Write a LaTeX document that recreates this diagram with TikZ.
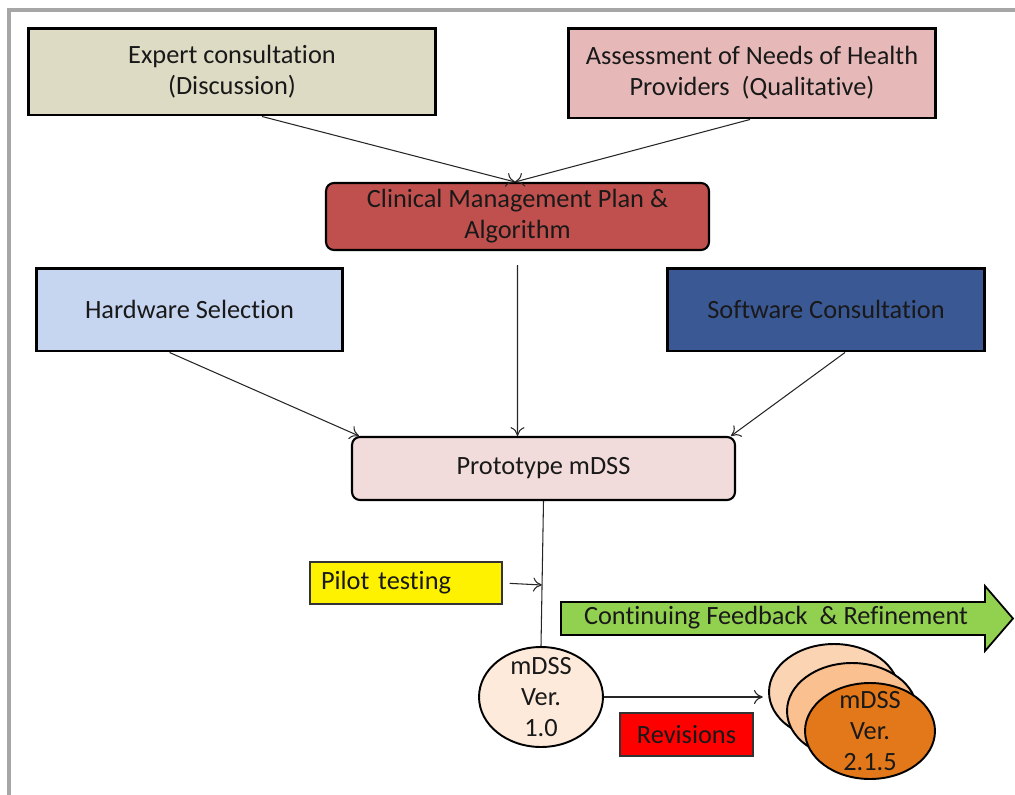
\documentclass[tikz,border=0pt]{standalone}
\usepackage{fontspec}
\setmainfont[Ligatures=NoCommon]{Carlito}
\usepackage{tikz}
\usetikzlibrary{shapes,arrows.meta}

\definecolor{expertfill}{HTML}{DDDBC3}
\definecolor{assessfill}{HTML}{E6B9B8}
\definecolor{clinicfill}{HTML}{C0504D}
\definecolor{hardfill}{HTML}{C6D5F0}
\definecolor{softfill}{HTML}{3A5894}
\definecolor{protofill}{HTML}{F2DCDB}
\definecolor{feedgreen}{HTML}{92D050}
\definecolor{verone}{HTML}{FDEADA}
\definecolor{vera}{HTML}{FBD4B4}
\definecolor{verb}{HTML}{FAC090}
\definecolor{verc}{HTML}{E3781A}
\definecolor{framegray}{HTML}{A6A6A6}

\begin{document}
\begin{tikzpicture}[x=0.02cm,y=-0.02cm]
    \tikzstyle{every node}=[font=\fontsize{15}{17.6}\selectfont,align=center,text=black!90]
    \tikzstyle{sqbox}=[rectangle,draw,line width=1.7pt,inner sep=0pt]
    \tikzstyle{rbox}=[rectangle,rounded corners=4.5pt,draw,line width=1.2pt,inner sep=0pt]
    \tikzstyle{flatbox}=[rectangle,draw=black!80,line width=0.6pt,inner sep=0pt]
    \tikzstyle{ver}=[ellipse,draw,line width=1.1pt,inner sep=0pt,minimum width=2.6cm,minimum height=1.92cm]
    \tikzstyle{link}=[-{To[length=5pt,width=8pt]},line width=0.6pt,draw=black!85]
    \useasboundingbox (0,0) rectangle (1015,795);
    \draw[framegray,line width=2.3pt] (9,795) -- (9,10) -- (1015,10);
    \node[sqbox,fill=expertfill,minimum width=8.16cm,minimum height=1.74cm] (expert) at (232,71.5)
      {Expert consultation\\(Discussion)};
    \node[sqbox,fill=assessfill,minimum width=7.36cm,minimum height=1.8cm] (assess) at (752,73)
      {Assessment of Needs of Health\\Providers\ \ (Qualitative)};
    \node[rbox,fill=clinicfill,minimum width=7.66cm,minimum height=1.34cm] (clinic) at (517.5,216.5)
      {Clinical Management Plan \&\\Algorithm};
    \node[sqbox,fill=hardfill,minimum width=6.14cm,minimum height=1.66cm] (hardware) at (189.5,309.5)
      {Hardware Selection};
    \node[sqbox,fill=softfill,minimum width=6.36cm,minimum height=1.66cm] (software) at (826,309.5)
      {Software Consultation};
    \node[rbox,fill=protofill,minimum width=7.66cm,minimum height=1.26cm] (proto) at (543.5,468.5)
      {Prototype mDSS};
    \node[flatbox,fill=yellow,minimum width=3.84cm,minimum height=0.84cm,text width=3.4cm,align=left] (pilot) at (406,583)
      {Pilot testing};
    \node[flatbox,fill=red,minimum width=2.66cm,minimum height=0.86cm] (revisions) at (686.5,734.5)
      {Revisions};
    \node[ver,fill=verone,minimum width=2.48cm,minimum height=2cm,
      label={[align=center]center:mDSS\\Ver.\\1.0}] (mdss1) at (541,697) {};
    \node[ver,fill=vera] (vera) at (834,692) {};
    \node[ver,fill=verb] (verb) at (852,711) {};
    \node[ver,fill=verc,label={[align=center]center:mDSS\\Ver.\\2.1.5}] (verc) at (870,731) {};
    \draw[fill=feedgreen,line width=1pt] (561,602) -- (985,602) -- (985,586) -- (1013,618.5)
      -- (985,651) -- (985,635) -- (561,635) -- cycle;
    \node (feedback) at (776,618) {Continuing Feedback\ \ \& Refinement};
    \coordinate (joint) at (542,585);
    \draw[link] ([xshift=0.6cm]expert.south) -- ([xshift=-0.05cm]clinic.north);
    \draw[link] ([xshift=-0.04cm]assess.south) -- ([xshift=-0.05cm]clinic.north);
    \draw[link,shorten <=8pt] (clinic.south) -- ([xshift=-0.52cm]proto.north);
    \draw[link] ([xshift=-0.4cm]hardware.south) -- ([xshift=0.16cm]proto.north west);
    \draw[link] ([xshift=0.38cm]software.south) -- ([xshift=-0.1cm]proto.north east);
    \draw[line width=0.6pt,black!85] (proto.south) -- (mdss1.north);
    \draw[link,shorten <=4pt] (pilot.east) -- (joint);
    \draw[link,shorten >=3pt] (mdss1.east) -- (mdss1.east -| vera.west);
\end{tikzpicture}
\end{document}
